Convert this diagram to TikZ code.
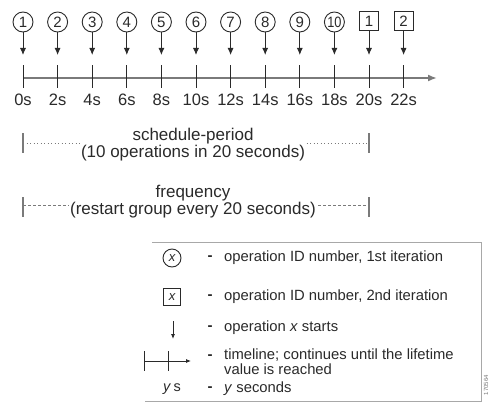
\documentclass[tikz,border=0pt]{standalone}
\usepackage{fontspec}
\setmainfont{Liberation Sans}
\usetikzlibrary{arrows.meta}
\definecolor{ink}{HTML}{2A2A2A}
\definecolor{axisgray}{HTML}{7A7A7A}
\definecolor{boxgray}{HTML}{A8A8A8}
\begin{document}
\begin{tikzpicture}[x=1pt,y=-1pt,
  every node/.style={text=ink},
  opc/.style={draw=ink,circle,line width=0.9pt,minimum size=20pt,inner sep=0pt,font=\fontsize{15}{15}\selectfont},
  opb/.style={draw=ink,rectangle,line width=0.9pt,minimum size=19pt,inner sep=0pt,font=\fontsize{15}{15}\selectfont},
  startarrow/.style={draw=ink,line width=0.9pt,-{Latex[length=7pt,width=6pt]}},
  tick/.style={draw=ink,line width=0.9pt},
  tlabel/.style={font=\fontsize{16.5}{16}\selectfont,inner sep=0pt},
  bar/.style={draw=axisgray,line width=1.2pt},
  captext/.style={font=\fontsize{17}{14.5}\selectfont,align=center,fill=white,inner sep=1pt},
  legtext/.style={font=\fontsize{14.8}{13}\selectfont,align=left,anchor=west,inner sep=0pt},
  legdash/.style={font=\fontsize{15}{15}\selectfont\bfseries,inner sep=0pt}
]
\useasboundingbox (0,0) rectangle (492,412);
\fill[white] (0,0) rectangle (492,412);

% ---- timeline ----
\coordinate (tl0) at (23,78);
\coordinate (tl1) at (437,78);
\draw[draw=axisgray,line width=2.2pt,-{Latex[length=9pt,width=7pt]}] (tl0) -- (tl1);

\foreach \i/\lab/\t in {0/1/0s,1/2/2s,2/3/4s,3/4/6s,4/5/8s,5/6/10s,6/7/12s,7/8/14s,8/9/16s,9/10/18s}{
  \pgfmathsetmacro{\xx}{23+34.6*\i}
  \node[opc] (c\i) at (\xx,22) {\ifnum\lab=10 \scalebox{0.85}[1]{10}\else\lab\fi};
  \coordinate (a\i) at (\xx,55);
  \draw[startarrow] (c\i.south) -- (a\i);
  \coordinate (k\i) at (\xx,65);
  \coordinate (kk\i) at (\xx,88);
  \draw[tick] (k\i) -- (kk\i);
  \node[tlabel] (l\i) at (\xx,100) {\t};
}
\foreach \i/\lab/\t in {10/1/20s,11/2/22s}{
  \pgfmathsetmacro{\xx}{23+34.6*\i}
  \node[opb] (c\i) at (\xx,21) {\lab};
  \coordinate (a\i) at (\xx,55);
  \draw[startarrow] (c\i.south) -- (a\i);
  \coordinate (k\i) at (\xx,65);
  \coordinate (kk\i) at (\xx,88);
  \draw[tick] (k\i) -- (kk\i);
  \node[tlabel] (l\i) at (\xx,100) {\t};
}

% ---- schedule-period ----
\coordinate (sp0) at (23,143);
\coordinate (sp1) at (369,143);
\draw[bar] (23,133) -- (23,153);
\draw[bar] (369,133) -- (369,153);
\draw[draw=axisgray,line width=0.8pt,dash pattern=on 1pt off 2.5pt] (sp0) -- (sp1);
\node[captext] (sptext) at (193,145) {schedule-period\\(10 operations in 20 seconds)};

% ---- frequency ----
\coordinate (fq0) at (23,205);
\coordinate (fq1) at (369,205);
\draw[bar] (23,197) -- (23,217);
\draw[bar] (369,197) -- (369,217);
\draw[draw=axisgray,line width=0.8pt,dash pattern=on 3pt off 2pt] (fq0) -- (fq1);
\node[captext] (fqtext) at (193,202) {frequency\\(restart group every 20 seconds)};

% ---- legend ----
\draw[draw=boxgray,line width=0.8pt] (152,242) -- (481,242) -- (481,401) -- (145,401);

\node[opc,minimum size=18pt,font=\fontsize{13}{13}\selectfont\itshape] (lc) at (172,258) {x};
\node[legdash] (d1) at (210,258) {-};
\node[legtext] (t1) at (224,258) {operation ID number, 1st iteration};

\node[opb,minimum size=17pt,font=\fontsize{13}{13}\selectfont\itshape] (lb) at (172,297) {x};
\node[legdash] (d2) at (210,297) {-};
\node[legtext] (t2) at (224,297) {operation ID number, 2nd iteration};

\coordinate (la0) at (173,321);
\coordinate (la1) at (173,339);
\draw[draw=ink,line width=0.8pt,-{Latex[length=5pt,width=4pt]}] (la0) -- (la1);
\node[legdash] (d3) at (210,328) {-};
\node[legtext] (t3) at (224,328) {operation \textit{x} starts};

\coordinate (lt0) at (144,361);
\coordinate (lt1) at (191,361);
\draw[draw=ink,line width=0.8pt,-{Latex[length=5pt,width=4pt]}] (lt0) -- (lt1);
\draw[draw=ink,line width=0.8pt] (144,351) -- (144,371);
\draw[draw=ink,line width=0.8pt] (168,351) -- (168,371);
\node[legdash] (d4) at (210,357) {-};
\node[legtext,anchor=north west,font=\fontsize{14.8}{15}\selectfont] (t4) at (224,349) {timeline; continues until the lifetime\\value is reached};

\node[font=\fontsize{14.5}{14}\selectfont,inner sep=0pt] (ys) at (172,389) {\textit{y}\,s};
\node[legdash] (d5) at (210,389) {-};
\node[legtext] (t5) at (224,389) {\textit{y} seconds};

\node[font=\fontsize{6}{6}\selectfont,text=axisgray,rotate=90,inner sep=0pt] (id) at (486,385) {170564};
\end{tikzpicture}
\end{document}
